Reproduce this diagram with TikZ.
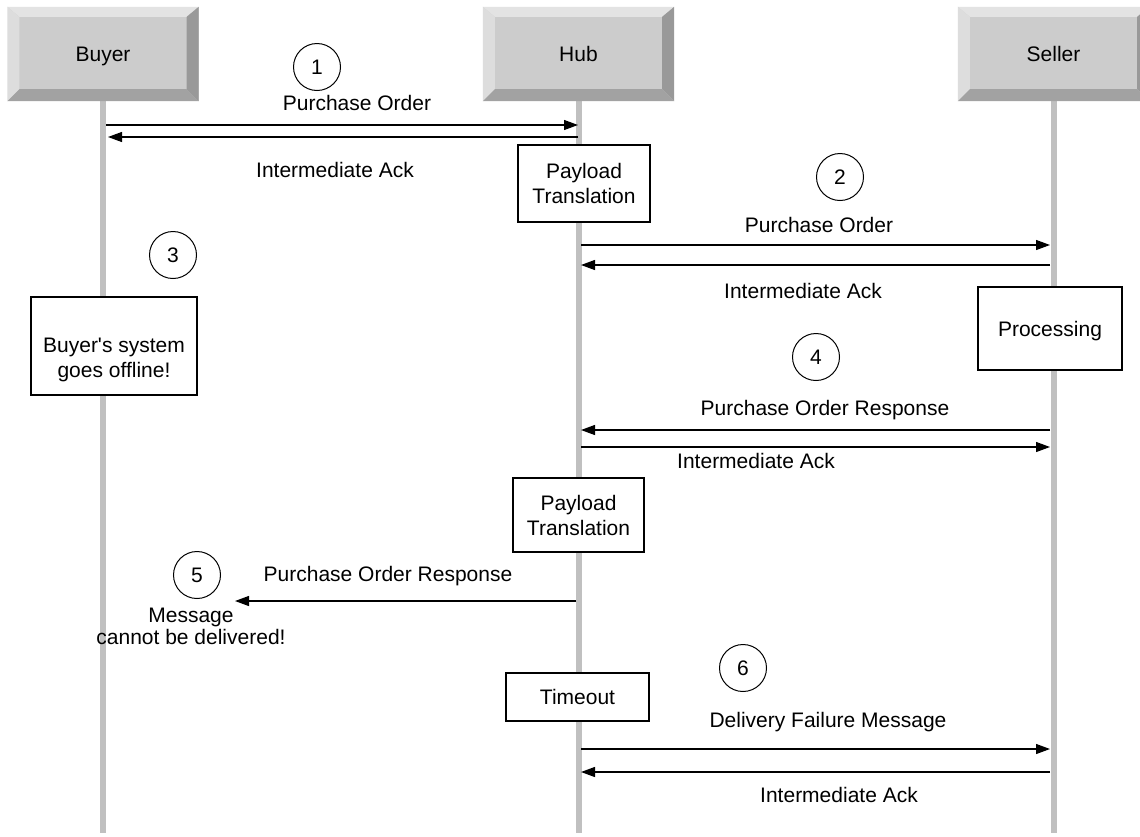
\documentclass[tikz,border=0pt]{standalone}
\usepackage{fontspec}
\setmainfont{Liberation Sans}[Ligatures=TeXOff]
\usetikzlibrary{arrows.meta}
\definecolor{lifegray}{HTML}{C0C0C0}
\definecolor{face}{HTML}{CCCCCC}
\definecolor{bvtop}{HTML}{E3E3E3}
\definecolor{bvleft}{HTML}{DDDDDD}
\definecolor{bvright}{HTML}{999999}
\definecolor{bvbottom}{HTML}{A2A2A2}
\newcommand\hdrbevel[1]{%
  \fill[bvtop] (#1.north west) -- (#1.north east) -- ([shift={(-12,10)}]#1.north east) -- ([shift={(12,10)}]#1.north west) -- cycle;
  \fill[bvleft] (#1.north west) -- ([shift={(12,10)}]#1.north west) -- ([shift={(12,-12)}]#1.south west) -- (#1.south west) -- cycle;
  \fill[bvright] (#1.north east) -- ([shift={(-12,10)}]#1.north east) -- ([shift={(-12,-12)}]#1.south east) -- (#1.south east) -- cycle;
  \fill[bvbottom] (#1.south west) -- ([shift={(12,-12)}]#1.south west) -- ([shift={(-12,-12)}]#1.south east) -- (#1.south east) -- cycle;
}
\begin{document}
\begin{tikzpicture}[x=1pt,y=-1pt, font=\fontsize{21}{25}\selectfont,
  hdr/.style={fill=face, minimum width=191pt, minimum height=94pt, inner sep=0pt, text depth=0pt},
  life/.style={draw=lifegray, line width=6pt},
  box/.style={draw, line width=1.3pt, fill=white, align=center, inner sep=0pt},
  num/.style={circle, draw, line width=1pt, minimum size=47pt, inner sep=0pt, fill=white},
  lbl/.style={inner sep=0pt, align=center, text height=15pt, text depth=0pt},
  msg/.style={line width=1.2pt, -{Triangle[length=14pt,width=10pt]}},
]
\useasboundingbox[fill=white] (0,0) rectangle (1140,836);

% lifeline headers
\node[hdr] (buyer) at (103,54) {};
\node[hdr] (hub) at (578.5,54) {};
\node[hdr] (seller) at (1053.5,54) {};

\coordinate (buyerend) at (103,833);
\coordinate (hubend) at (578.5,833);
\coordinate (sellerend) at (1053.5,833);
\draw[life] (buyer.south) -- (buyerend);
\draw[life] (hub.south) -- (hubend);
\draw[life] (seller.south) -- (sellerend);

\hdrbevel{buyer}
\hdrbevel{hub}
\hdrbevel{seller}
\node[lbl] (buyertext) at (103,54) {Buyer};
\node[lbl] (hubtext) at (578.5,54) {Hub};
\node[lbl] (sellertext) at (1053.5,54) {Seller};

% step 1
\node[num] (n1) at (317,67) {1};
\node[lbl] (l1) at (357,103) {Purchase Order};
\coordinate (b1) at (106,125);
\coordinate (h1) at (578,125);
\draw[msg] (b1) -- (h1);
\coordinate (h1a) at (578,137);
\coordinate (b1a) at (108,137);
\draw[msg] (h1a) -- (b1a);
\node[lbl] (l1a) at (335,170) {Intermediate Ack};
\node[box, minimum width=132pt, minimum height=77pt] (pt1) at (584,183.5) {Payload\\Translation};

% step 2
\node[num] (n2) at (840,177) {2};
\node[lbl] (l2) at (819,225) {Purchase Order};
\coordinate (h2) at (581,245);
\coordinate (s2) at (1050,245);
\draw[msg] (h2) -- (s2);
\coordinate (s2a) at (1050,265);
\coordinate (h2a) at (581,265);
\draw[msg] (s2a) -- (h2a);
\node[lbl] (l2a) at (803,291) {Intermediate Ack};

% step 3
\node[num] (n3) at (173,255) {3};
\node[box, minimum width=166pt, minimum height=98pt,
  label={[align=center, inner sep=0pt, yshift=-14pt]center:{Buyer's system\\goes offline!}}] (offline) at (114,346) {};
\node[box, minimum width=144pt, minimum height=83pt, text depth=0pt, text height=15pt] (proc) at (1050,328.5) {Processing};

% step 4
\node[num] (n4) at (816,357) {4};
\node[lbl] (l4) at (825,408) {Purchase Order Response};
\coordinate (s4) at (1050,430);
\coordinate (h4) at (581,430);
\draw[msg] (s4) -- (h4);
\coordinate (h4a) at (581,447);
\coordinate (s4a) at (1050,447);
\draw[msg] (h4a) -- (s4a);
\node[lbl] (l4a) at (756,461) {Intermediate Ack};
\node[box, minimum width=131pt, minimum height=74pt] (pt2) at (578.5,515) {Payload\\Translation};

% step 5
\node[num] (n5) at (197,575) {5};
\node[lbl] (l5) at (388,574) {Purchase Order Response};
\coordinate (h5) at (576,601);
\coordinate (x5) at (235,601);
\draw[msg] (h5) -- (x5);
\node[inner sep=0pt, align=center, font=\fontsize{21}{22}\selectfont] (undeliv) at (191,626) {Message\\cannot be delivered!};

% step 6
\node[box, minimum width=143pt, minimum height=48pt, text depth=0pt, text height=15pt] (timeout) at (577.5,697) {Timeout};
\node[num] (n6) at (743,668) {6};
\node[lbl] (l6) at (828,720) {Delivery Failure Message};
\coordinate (h6) at (581,749);
\coordinate (s6) at (1050,749);
\draw[msg] (h6) -- (s6);
\coordinate (s6a) at (1050,772);
\coordinate (h6a) at (581,772);
\draw[msg] (s6a) -- (h6a);
\node[lbl] (l6a) at (839,795) {Intermediate Ack};
\end{tikzpicture}
\end{document}
